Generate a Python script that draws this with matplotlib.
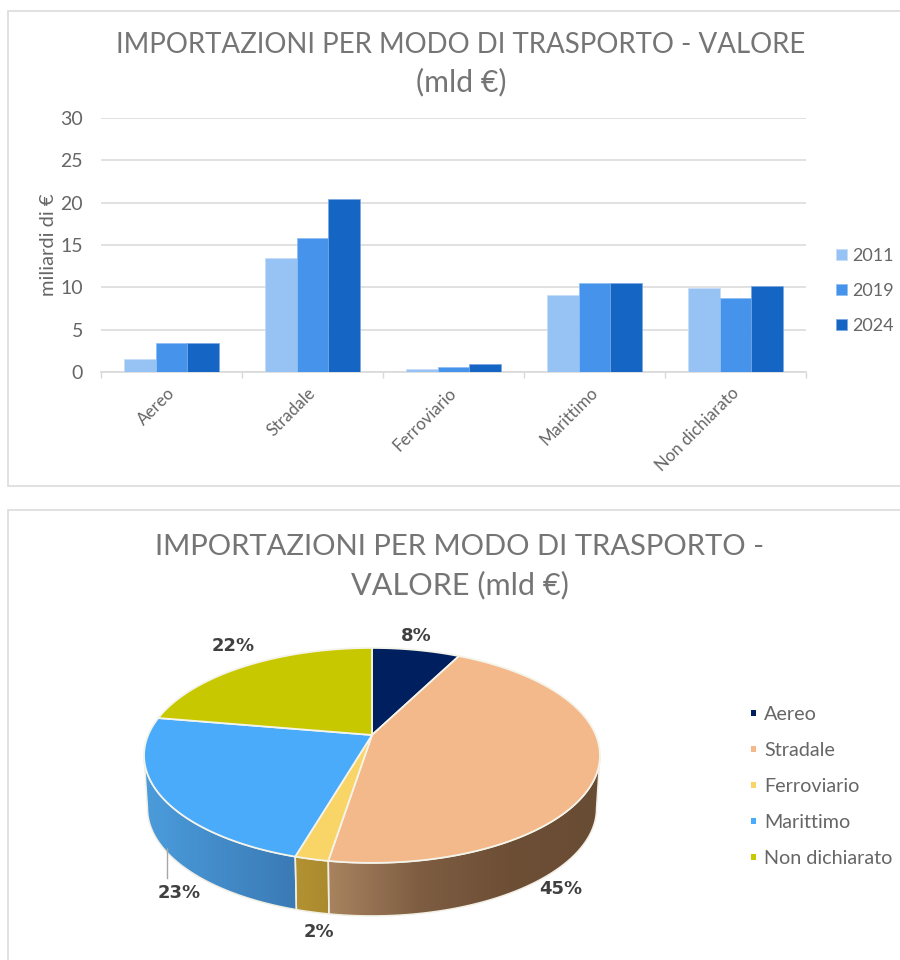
import matplotlib
matplotlib.use("Agg")
import matplotlib.pyplot as plt
import numpy as np
from matplotlib.colors import LinearSegmentedColormap
from matplotlib.patches import Polygon, Rectangle

categories = ["Aereo", "Stradale", "Ferroviario", "Marittimo", "Non dichiarato"]
years = ["2011", "2019", "2024"]
v2011 = [1.5, 13.5, 0.4, 9.1, 9.9]
v2019 = [3.4, 15.8, 0.6, 10.5, 8.7]
v2024 = [3.4, 20.4, 0.9, 10.5, 10.1]

bar_colors = ["#97c3f4", "#4593ea", "#1565c4"]
bar_edges = ["#c4dcf8", "#8dbdf2", "#7aa8e0"]
pie_colors = ["#001f5f", "#f4b98a", "#f9d466", "#4aabfa", "#c8c800"]
side_colors = [
    ("#001f5f", "#001f5f"),
    ("#a9835f", "#7e5d42", "#6d4f36", "#694c34"),
    ("#b39232", "#a98a2e"),
    ("#4b9cdc", "#3a7ab5"),
    ("#8f8f00", "#8f8f00"),
]

W, H = 900, 960
TXT = "#666666"
TITLE = "#757575"
plt.rcParams["font.family"] = ["Lato", "DejaVu Sans"]

fig = plt.figure(figsize=(W / 100, H / 100), dpi=100)

# background in pixel coordinates, used for the panels and the pie
bg = fig.add_axes([0, 0, 1, 1])
bg.set_xlim(0, W)
bg.set_ylim(H, 0)
bg.axis("off")
bg.add_patch(Rectangle((8, 11), 900, 474.5, fc="white", ec="#dcdcdc", lw=1.2))
bg.add_patch(Rectangle((8, 509.5), 900, 480, fc="white", ec="#dcdcdc", lw=1.2))

bg.text(461, 45, "IMPORTAZIONI PER MODO DI TRASPORTO - VALORE", ha="center", va="center",
        fontsize=19.9, color=TITLE)
bg.text(461, 82, "(mld €)", ha="center", va="center", fontsize=21.8, color=TITLE)
bg.text(460, 547, "IMPORTAZIONI PER MODO DI TRASPORTO -", ha="center", va="center",
        fontsize=21.1, color=TITLE)
bg.text(460, 585, "VALORE (mld €)", ha="center", va="center", fontsize=22.1, color=TITLE)

# bar chart
ax = fig.add_axes([101 / W, 1 - 372 / H, 705 / W, 254 / H])
ax.patch.set_alpha(0)
x = np.arange(len(categories))
bw = 0.223
for i, (vals, col, yr) in enumerate(zip([v2011, v2019, v2024], bar_colors, years)):
    ax.bar(x + (i - 1) * bw, vals, bw, color=col, label=yr, zorder=3, edgecolor=bar_edges[i], linewidth=0.5)
ax.set_xlim(-0.5, len(categories) - 0.5)
ax.set_ylim(0, 30)
ax.set_yticks(range(0, 31, 5))
ax.set_xticks(np.arange(len(categories) + 1) - 0.5, minor=True)
# zero-length major ticks, nudged so the rotated labels end where they do in the original
ax.set_xticks(x - 0.035)
ax.set_xticklabels(categories, rotation=45, ha="right", rotation_mode="anchor", fontsize=12.2, color=TXT)
ax.tick_params(axis="x", which="major", length=0, pad=9)
ax.tick_params(axis="x", which="minor", length=4, color="#d9d9d9", width=1)
ax.tick_params(axis="y", length=0, pad=13, labelsize=14, labelcolor=TXT)
ax.grid(axis="y", color="#dcdcdc", lw=1.2, zorder=0)
for s in ["top", "right", "left"]:
    ax.spines[s].set_visible(False)
ax.spines["bottom"].set_color("#d9d9d9")
ax.spines["bottom"].set_linewidth(1.2)
ax.set_ylabel("miliardi di €", fontsize=14.5, color=TXT, labelpad=2.5)
ax.legend(loc="center left", bbox_to_anchor=(1.0426, 0.319), frameon=False, fontsize=13, labelcolor=TXT,
          handlelength=0.61, handleheight=0.61, handletextpad=0.3, labelspacing=1.05, borderpad=0,
          borderaxespad=0)

# perspective pie: unit circle projected so the far side looks smaller
CX, CY = 372, 735
K, A, B = 0.19, 223.8, 103.6
DEPTH, SHRINK = 53, 0.985


def project(theta):
    px, py = np.sin(theta), np.cos(theta)
    d = 1 + K * py
    return CX + A * px / d, CY - B * py / d


total = sum(v2024)
edges = np.concatenate([[0], np.cumsum(v2024) / total]) * 2 * np.pi
front0 = np.arccos(-K)
front1 = 2 * np.pi - front0

# side wall first, only where it faces the viewer
for i in range(len(v2024)):
    t0, t1 = max(edges[i], front0), min(edges[i + 1], front1)
    if t1 <= t0:
        continue
    t = np.linspace(t0, t1, 80)
    px, py = project(t)
    lx = CX + (px - CX) * SHRINK
    ly = py + DEPTH
    wall = np.column_stack([np.r_[px, lx[::-1]], np.r_[py, ly[::-1]]])
    bg.add_patch(Polygon(wall, closed=True, fc="none", ec="#f1efe4", lw=1.1, zorder=3))
    cmap = LinearSegmentedColormap.from_list("side", side_colors[i])
    x0, x1 = wall[:, 0].min(), wall[:, 0].max()
    y0, y1 = wall[:, 1].min(), wall[:, 1].max()
    grad = np.linspace(0, 1, 200).reshape(1, -1)
    im = bg.imshow(grad, cmap=cmap, extent=(x0, x1, y1, y0), aspect="auto", zorder=2, interpolation="bilinear")
    im.set_clip_path(Polygon(wall, closed=True, transform=bg.transData))
bg.set_xlim(0, W)
bg.set_ylim(H, 0)

for i in range(len(v2024)):
    t = np.linspace(edges[i], edges[i + 1], 120)
    px, py = project(t)
    top = np.column_stack([np.r_[CX, px], np.r_[CY, py]])
    bg.add_patch(Polygon(top, closed=True, fc=pie_colors[i], ec="#f4f4ea", lw=1.3, zorder=4))

label_pos = [(416, 636), (561, 889), (319, 932), (179, 893), (233, 646)]
for v, (lx, ly) in zip(v2024, label_pos):
    bg.text(lx, ly, f"{v / total:.0%}", ha="center", va="center", fontsize=13, fontweight="bold",
            color="#404040", zorder=6, family="DejaVu Sans")
bg.plot([167, 167], [848, 878], color="#a6a6a6", lw=1, zorder=5)

# pie legend
for i, c in enumerate(categories):
    ly = 712.5 + i * 36
    bg.add_patch(Rectangle((750.5, ly - 2.5), 5, 5.5, fc=pie_colors[i], ec="none"))
    bg.text(764, ly + 2, c, ha="left", va="center", fontsize=14.25, color=TXT)

fig.savefig("out.png", dpi=100)
